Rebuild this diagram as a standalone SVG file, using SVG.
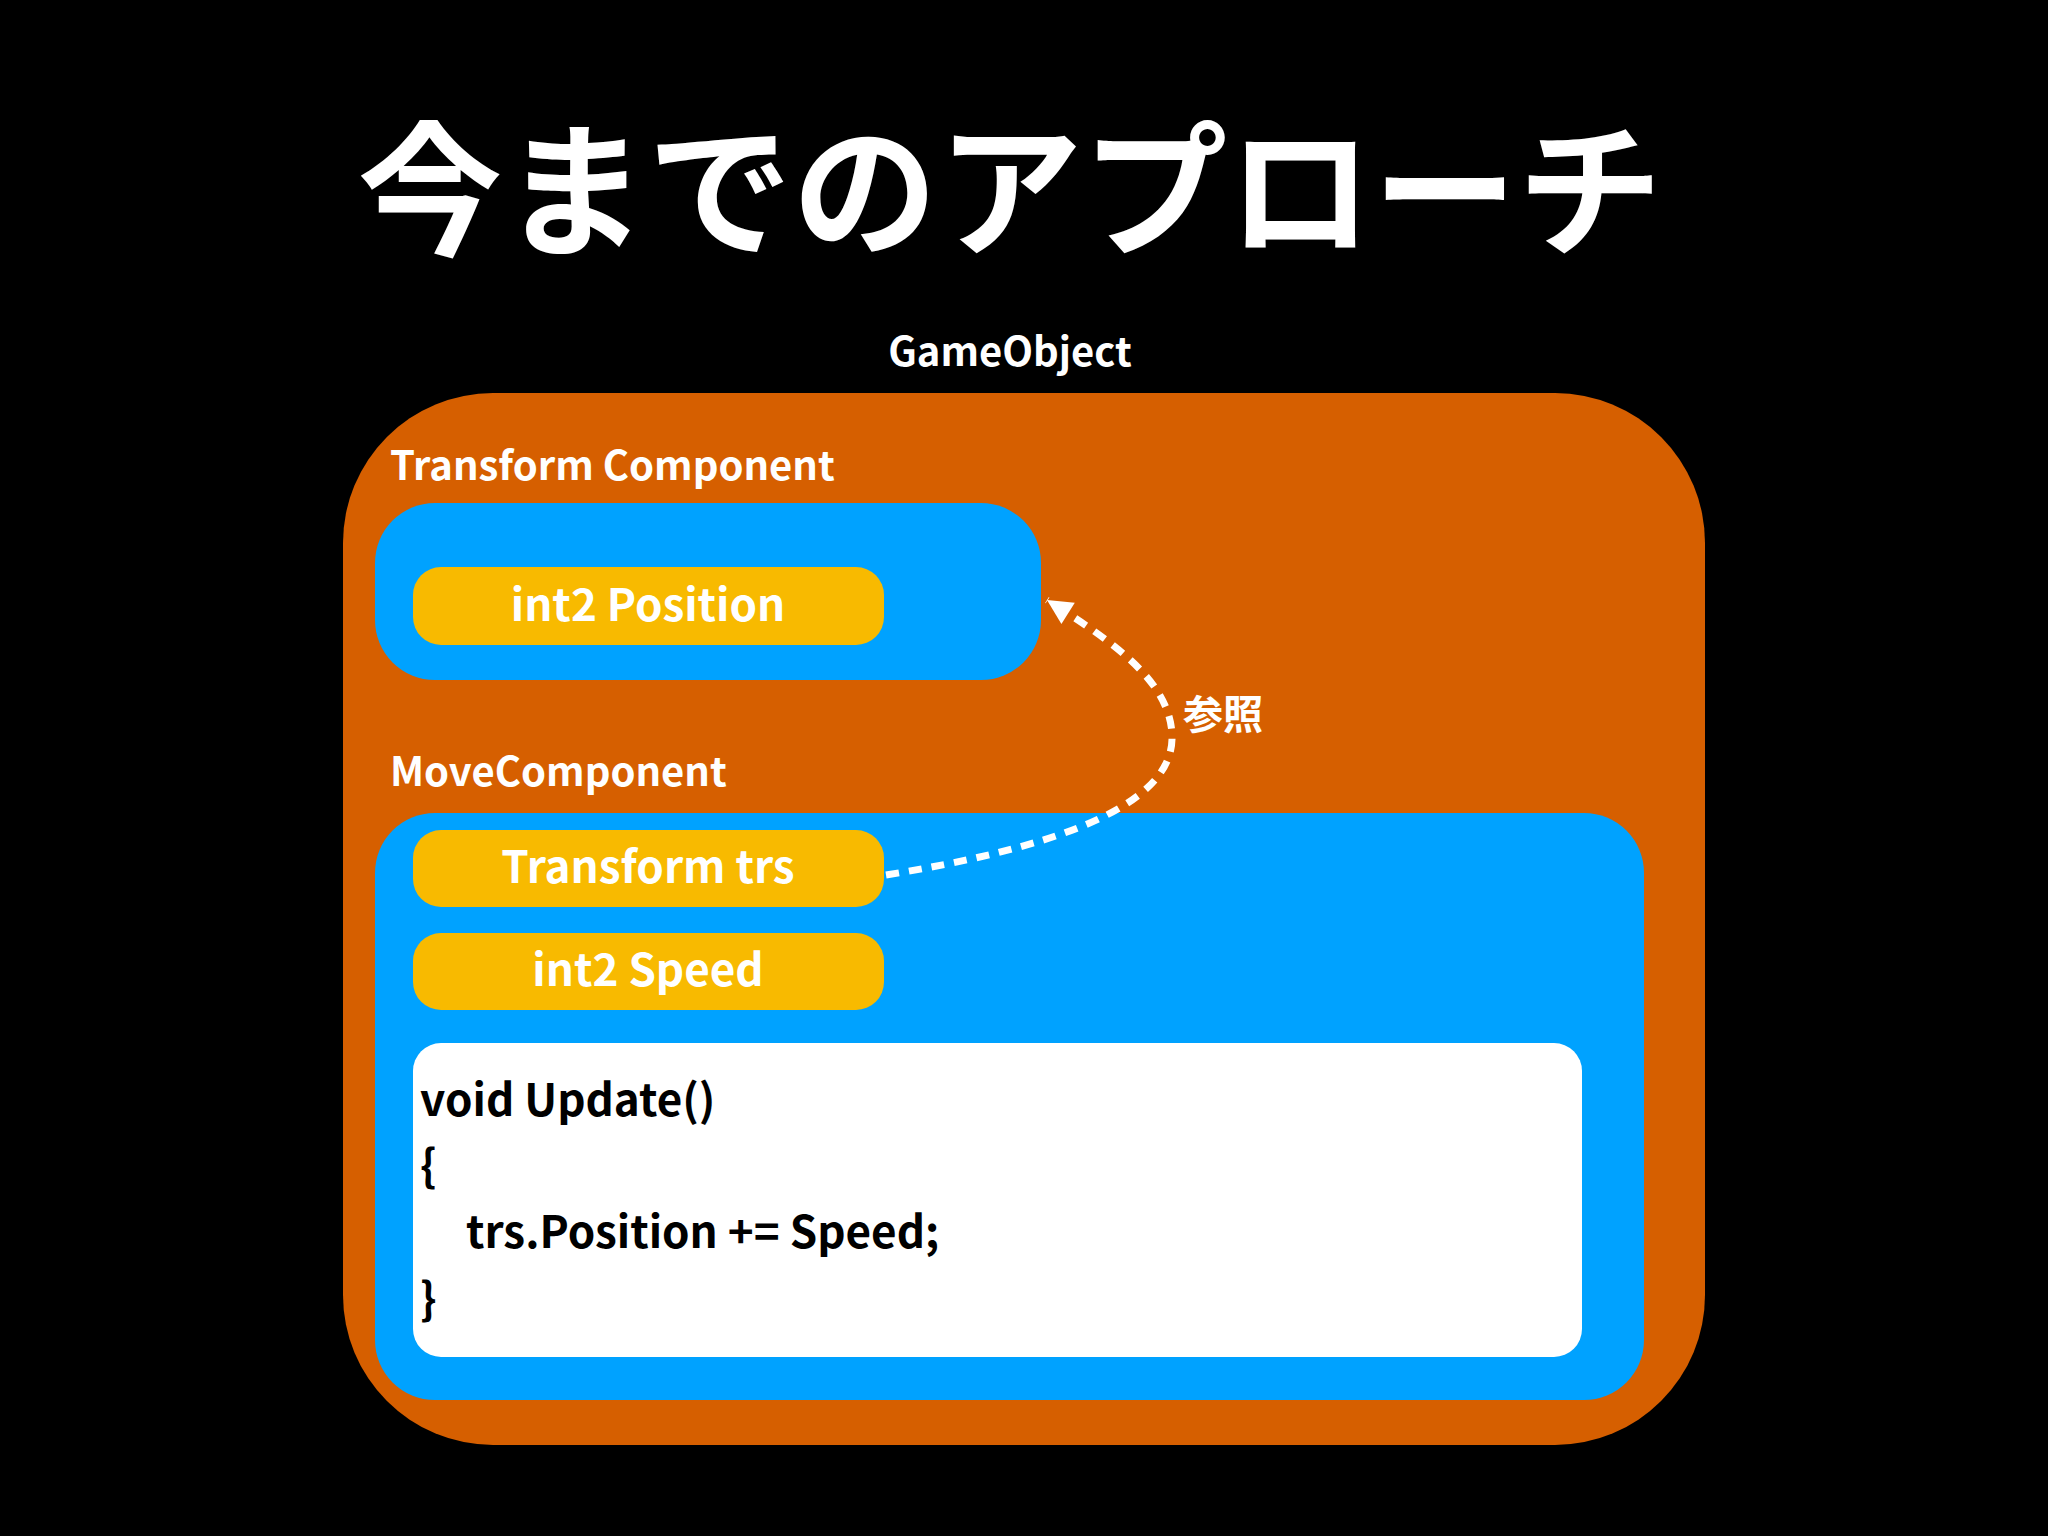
<svg xmlns="http://www.w3.org/2000/svg" width="2048" height="1536" viewBox="0 0 2048 1536">
  <defs>
    <style>
      text { font-family: "Noto Sans CJK JP", "Noto Sans", sans-serif; font-weight: bold; }
      .w { fill: #FFFFFF; }
      .k { fill: #000000; }
      .title { font-size: 145px; }
      .lbl { font-size: 40px; }
      .field { font-size: 44px; text-anchor: middle; }
      .code { font-size: 44px; }
      .orange { fill: #D65F00; }
      .blue { fill: #00A2FF; }
      .yellow { fill: #F8BA00; }
      .white { fill: #FFFFFF; }
      .ref { fill: none; stroke: #FFFFFF; stroke-width: 7; stroke-dasharray: 13 10; }
    </style>
    <marker id="arrow" markerUnits="userSpaceOnUse" markerWidth="40" markerHeight="40" viewBox="-30 -20 40 40" refX="0" refY="0" orient="auto">
      <path d="M0 0 L-25 -12.5 L-25 12.5 Z" fill="#FFFFFF"/>
    </marker>
  </defs>
  <rect x="0" y="0" width="2048" height="1536" fill="#000000"/>

  <g id="title">
    <text class="title w" x="1010" y="245" text-anchor="middle">今までのアプローチ</text>
  </g>

  <g id="gameobject">
    <text class="lbl w" x="1010" y="366" text-anchor="middle">GameObject</text>
    <rect class="orange" x="343" y="393" width="1362" height="1052" rx="150" ry="150"/>
  </g>

  <g id="transform-component">
    <text class="lbl w" x="390" y="480">Transform Component</text>
    <rect class="blue" x="375" y="503" width="666" height="177" rx="60" ry="60"/>
  </g>

  <g id="int2-position">
    <rect class="yellow" x="413" y="567" width="471" height="78" rx="28" ry="28"/>
    <text class="field w" x="648" y="621">int2 Position</text>
  </g>

  <g id="move-component">
    <text class="lbl w" x="390" y="786">MoveComponent</text>
    <rect class="blue" x="375" y="813" width="1269" height="587" rx="60" ry="60"/>
  </g>

  <g id="transform-trs">
    <rect class="yellow" x="413" y="830" width="471" height="77" rx="28" ry="28"/>
    <text class="field w" x="648" y="883">Transform trs</text>
  </g>

  <g id="int2-speed">
    <rect class="yellow" x="413" y="933" width="471" height="77" rx="28" ry="28"/>
    <text class="field w" x="648" y="986">int2 Speed</text>
  </g>

  <g id="update-code">
    <rect class="white" x="413" y="1043" width="1169" height="314" rx="28" ry="28"/>
    <text class="code k" x="420" y="1116">void Update()</text>
    <text class="code k" x="420" y="1182">{</text>
    <text class="code k" x="466" y="1248">trs.Position += Speed;</text>
    <text class="code k" x="420" y="1315">}</text>
  </g>

  <g id="connectors">
    <path class="ref" d="M886 875 C1040 850, 1175 810, 1172 735 C1170 680, 1110 640, 1047 600" marker-end="url(#arrow)"/>
    <text class="w" x="1223" y="729" font-size="40" text-anchor="middle">参照</text>
  </g>
</svg>
